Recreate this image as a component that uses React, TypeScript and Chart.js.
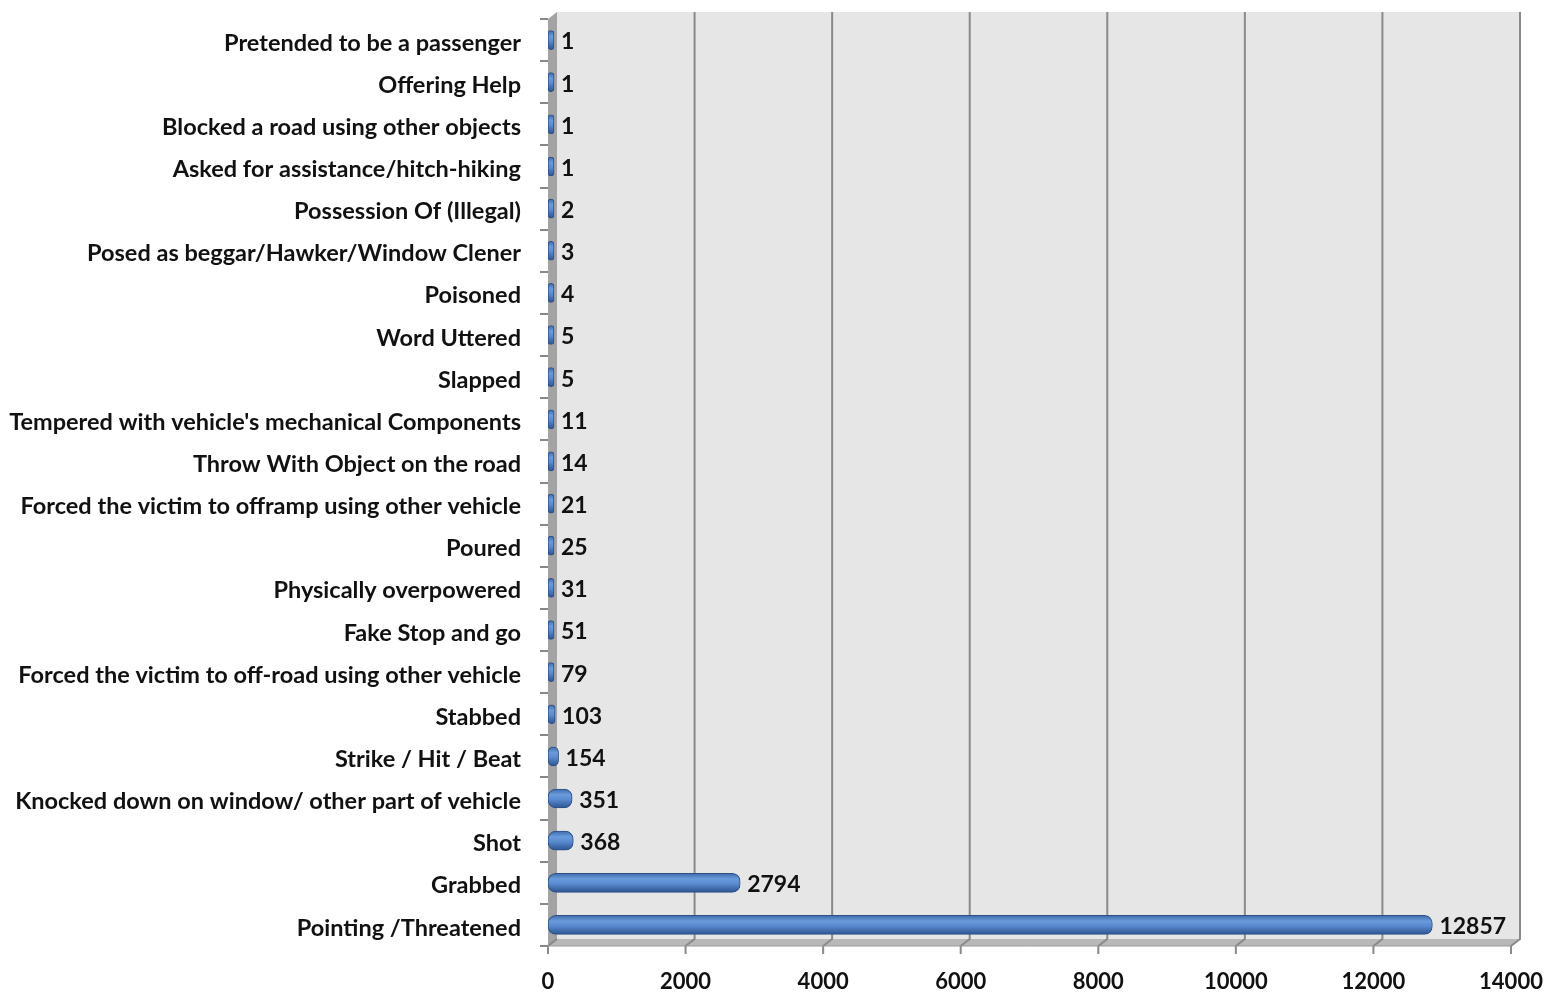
import React, { useEffect, useRef } from "react";
import { Chart, registerables } from "chart.js";

Chart.register(...registerables);

const categories = [
  "Pretended to be a passenger",
  "Offering Help",
  "Blocked a road using other objects",
  "Asked for assistance/hitch-hiking",
  "Possession Of (Illegal)",
  "Posed as beggar/Hawker/Window Clener",
  "Poisoned",
  "Word Uttered",
  "Slapped",
  "Tempered with vehicle's mechanical Components",
  "Throw With Object on the road",
  "Forced the victim to offramp using other vehicle",
  "Poured",
  "Physically overpowered",
  "Fake Stop and go",
  "Forced the victim to off-road using other vehicle",
  "Stabbed",
  "Strike / Hit / Beat",
  "Knocked down on window/ other part of vehicle",
  "Shot",
  "Grabbed",
  "Pointing /Threatened",
];

const values = [1, 1, 1, 1, 2, 3, 4, 5, 5, 11, 14, 21, 25, 31, 51, 79, 103, 154, 351, 368, 2794, 12857];

const xTicks = [0, 2000, 4000, 6000, 8000, 10000, 12000, 14000];

const FONT = "Lato, 'Open Sans', sans-serif";
const DX = 9;
const DY = -7;
const BAR_H = 19;

const wallPlugin = {
  id: "wall3d",
  beforeDatasetsDraw(chart: any) {
    const { ctx, chartArea } = chart;
    const { left: L, right: R, top: T, bottom: B } = chartArea;
    const xs = chart.scales.x;
    ctx.save();
    ctx.fillStyle = "#e6e6e6";
    ctx.fillRect(L + DX, T + DY, R - L, B - T);
    ctx.fillStyle = "#a3a3a3";
    ctx.beginPath();
    ctx.moveTo(L, T);
    ctx.lineTo(L + DX, T + DY);
    ctx.lineTo(L + DX, B + DY);
    ctx.lineTo(L, B);
    ctx.closePath();
    ctx.fill();
    ctx.fillStyle = "#b8b8b8";
    ctx.beginPath();
    ctx.moveTo(L, B);
    ctx.lineTo(L + DX, B + DY);
    ctx.lineTo(R + DX, B + DY);
    ctx.lineTo(R, B);
    ctx.closePath();
    ctx.fill();
    ctx.strokeStyle = "#8a8a8a";
    ctx.lineWidth = 2;
    xTicks.forEach((v) => {
      const x = xs.getPixelForValue(v);
      ctx.beginPath();
      if (v !== 0) {
        ctx.moveTo(x + DX, T + DY);
        ctx.lineTo(x + DX, B + DY);
      } else {
        ctx.moveTo(x + DX, B + DY);
      }
      ctx.lineTo(x, B);
      ctx.lineTo(x, B + 8);
      ctx.stroke();
    });
    ctx.lineWidth = 1;
    ctx.strokeStyle = "#9a9a9a";
    ctx.beginPath();
    ctx.moveTo(L, B);
    ctx.lineTo(R, B);
    ctx.stroke();
    ctx.restore();
  },
};

const labelPlugin = {
  id: "valueLabels",
  afterDatasetsDraw(chart: any) {
    const { ctx } = chart;
    const meta = chart.getDatasetMeta(0);
    ctx.save();
    ctx.font = `bold 23px ${FONT}`;
    ctx.fillStyle = "#111";
    ctx.textBaseline = "middle";
    ctx.textAlign = "left";
    meta.data.forEach((bar: any, i: number) => {
      ctx.fillText(String(values[i]), bar.x + 7, bar.y + 2);
    });
    ctx.restore();
  },
};

export default function App() {
  const ref = useRef<HTMLCanvasElement>(null);
  useEffect(() => {
    if (!ref.current) return;
    const chart = new Chart(ref.current, {
      type: "bar",
      data: {
        labels: categories,
        datasets: [
          {
            data: values,
            backgroundColor: (c: any) => {
              const ch = c.chart;
              const ys = ch.scales && ch.scales.y;
              if (!ys || c.dataIndex === undefined) return "#4f81bd";
              const y = ys.getPixelForValue(c.dataIndex);
              if (!isFinite(y)) return "#4f81bd";
              const g = ch.ctx.createLinearGradient(0, y - BAR_H / 2, 0, y + BAR_H / 2);
              g.addColorStop(0, "#3d6cab");
              g.addColorStop(0.3, "#6a9bdc");
              g.addColorStop(0.55, "#5a8ad0");
              g.addColorStop(1, "#2c5490");
              return g;
            },
            borderColor: "#2d5086",
            borderWidth: 1,
            borderRadius: 8,
            borderSkipped: false,
            barThickness: BAR_H,
            minBarLength: 6,
          },
        ],
      },
      options: {
        indexAxis: "y",
        animation: false,
        responsive: true,
        maintainAspectRatio: false,
        layout: { padding: { top: 19, right: 41, left: 0, bottom: 0 } },
        plugins: { legend: { display: false }, tooltip: { enabled: false } },
        scales: {
          x: {
            min: 0,
            max: 14000,
            afterFit: (s: any) => {
              s.height = 48;
              s.paddingLeft = 0;
              s.paddingRight = 0;
            },
            afterBuildTicks: (s: any) => {
              s.ticks = xTicks.map((v) => ({ value: v }));
            },
            grid: { display: false },
            border: { display: false },
            ticks: {
              padding: 15,
              color: "#111",
              font: { family: FONT, size: 22, weight: "bold" },
              callback: (v: any) => String(v),
            },
          },
          y: {
            afterFit: (s: any) => {
              s.width = 548;
              s.paddingTop = 0;
              s.paddingBottom = 0;
            },
            grid: {
              offset: true,
              drawOnChartArea: false,
              drawTicks: true,
              tickLength: 8,
              color: "#888",
              lineWidth: 2,
            },
            border: { display: false },
            ticks: {
              padding: 19,
              labelOffset: 3,
              color: "#111",
              font: { family: FONT, size: 23.5, weight: "bold" },
            },
          },
        },
      },
      plugins: [wallPlugin, labelPlugin],
    });
    return () => chart.destroy();
  }, []);
  return (
    <div style={{ position: "fixed", left: 0, top: 0, width: 1552, height: 994, background: "#fff" }}>
      <canvas ref={ref} />
    </div>
  );
}
